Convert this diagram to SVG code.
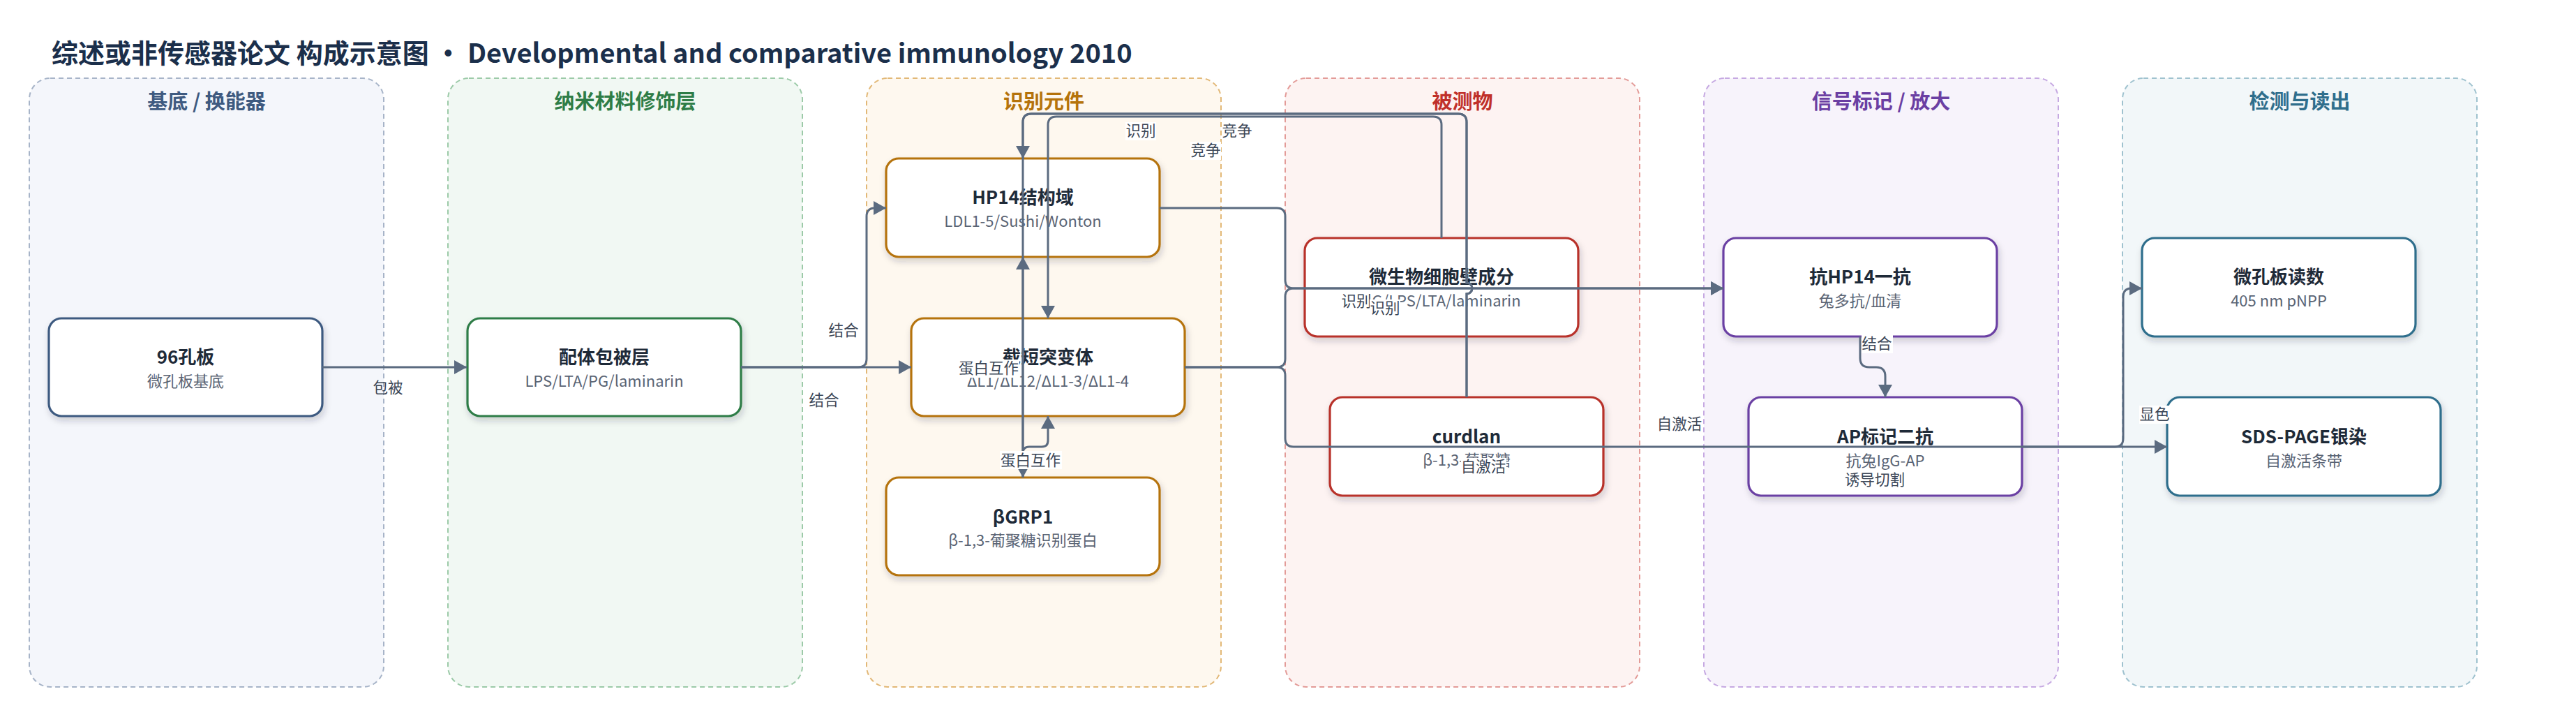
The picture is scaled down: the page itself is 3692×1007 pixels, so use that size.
<svg xmlns="http://www.w3.org/2000/svg" width="3692" height="1007" viewBox="0 0 3692 1007">
<defs>
<style>
text{font-family:"Noto Sans CJK SC","Noto Sans",sans-serif}
.title{font-size:38px;font-weight:700;fill:#1b2f4b}
.lane{stroke-width:2;stroke-dasharray:7 5}
.lt{font-size:29px;font-weight:700;text-anchor:middle}
.node rect{fill:#fff;stroke-width:3.2;filter:url(#sh)}
.nt{font-size:26px;font-weight:700;fill:#1e2a38;text-anchor:middle}
.ns{font-size:22px;fill:#5a6474;text-anchor:middle}
.conn path{fill:none;stroke:#5b6b80;stroke-width:3}
.lbl rect{fill:#fff}
.lbl text{font-size:21.5px;fill:#3b4656;text-anchor:middle}
</style>
<filter id="sh" x="-10%" y="-15%" width="125%" height="145%">
<feDropShadow dx="2" dy="5" stdDeviation="5" flood-color="#1e293b" flood-opacity="0.2"/>
</filter>
<marker id="arr" viewBox="0 0 18 20" refX="18" refY="10" markerWidth="18" markerHeight="20" markerUnits="userSpaceOnUse" orient="auto">
<path d="M0,0 L18,10 L0,20 z" fill="#5b6b80"/>
</marker>
</defs>
<rect width="3692" height="1007" fill="#fff"/>
<text class="title" x="74" y="90">综述或非传感器论文 构成示意图 • Developmental and comparative immunology 2010</text>

<g id="lanes">
<g id="lane-substrate"><rect class="lane" x="42" y="112" width="508" height="872" rx="30" fill="#f4f6fb" stroke="#a7b4c8"/><text class="lt" x="296" y="156" fill="#3e5a80">基底 / 换能器</text></g>
<g id="lane-nano"><rect class="lane" x="642" y="112" width="508" height="872" rx="30" fill="#f1f8f3" stroke="#9ccaa8"/><text class="lt" x="896" y="156" fill="#2e7d47">纳米材料修饰层</text></g>
<g id="lane-recog"><rect class="lane" x="1242" y="112" width="508" height="872" rx="30" fill="#fef8ef" stroke="#e2b877"/><text class="lt" x="1496" y="156" fill="#b5730b">识别元件</text></g>
<g id="lane-analyte"><rect class="lane" x="1842" y="112" width="508" height="872" rx="30" fill="#fdf3f2" stroke="#e39b98"/><text class="lt" x="2096" y="156" fill="#c0302a">被测物</text></g>
<g id="lane-signal"><rect class="lane" x="2442" y="112" width="508" height="872" rx="30" fill="#f7f3fb" stroke="#c6a9e2"/><text class="lt" x="2696" y="156" fill="#6b3fa3">信号标记 / 放大</text></g>
<g id="lane-readout"><rect class="lane" x="3042" y="112" width="508" height="872" rx="30" fill="#f2f7f9" stroke="#9fc2cf"/><text class="lt" x="3296" y="156" fill="#2f6e8c">检测与读出</text></g>
</g>

<g id="n-plate96" class="node"><rect x="70" y="456" width="392" height="140" rx="18" stroke="#3e5a80"/><text class="nt" x="266" y="521">96孔板</text><text class="ns" x="266" y="554">微孔板基底</text></g>
<g id="n-ligand" class="node"><rect x="670" y="456" width="392" height="140" rx="18" stroke="#2e7d47"/><text class="nt" x="866" y="521">配体包被层</text><text class="ns" x="866" y="554">LPS/LTA/PG/laminarin</text></g>
<g id="n-hp14" class="node"><rect x="1270" y="227" width="392" height="141" rx="18" stroke="#b5730b"/><text class="nt" x="1466" y="292">HP14结构域</text><text class="ns" x="1466" y="325">LDL1-5/Sushi/Wonton</text></g>
<g id="n-trunc" class="node"><rect x="1306" y="456" width="392" height="140" rx="18" stroke="#b5730b"/><text class="nt" x="1502" y="521">截短突变体</text><text class="ns" x="1502" y="554">ΔL1/ΔL12/ΔL1-3/ΔL1-4</text></g>
<g id="n-bgrp1" class="node"><rect x="1270" y="684" width="392" height="140" rx="18" stroke="#b5730b"/><text class="nt" x="1466" y="750">βGRP1</text><text class="ns" x="1466" y="782">β-1,3-葡聚糖识别蛋白</text></g>
<g id="n-microbe" class="node"><rect x="1870" y="341" width="392" height="141" rx="18" stroke="#b8302a"/><text class="nt" x="2066" y="406">微生物细胞壁成分</text><text class="ns" x="2066" y="439">PG/LPS/LTA/laminarin</text></g>
<g id="n-curdlan" class="node"><rect x="1906" y="569" width="392" height="141" rx="18" stroke="#b8302a"/><text class="nt" x="2102" y="635">curdlan</text><text class="ns" x="2102" y="667">β-1,3-葡聚糖</text></g>
<g id="n-ab1" class="node"><rect x="2470" y="341" width="392" height="141" rx="18" stroke="#6b3fa3"/><text class="nt" x="2666" y="406">抗HP14一抗</text><text class="ns" x="2666" y="439">兔多抗/血清</text></g>
<g id="n-ab2" class="node"><rect x="2506" y="569" width="392" height="141" rx="18" stroke="#6b3fa3"/><text class="nt" x="2702" y="635">AP标记二抗</text><text class="ns" x="2702" y="668">抗兔IgG-AP</text></g>
<g id="n-reader" class="node"><rect x="3070" y="341" width="392" height="141" rx="18" stroke="#2f6e8c"/><text class="nt" x="3266" y="406">微孔板读数</text><text class="ns" x="3266" y="439">405 nm pNPP</text></g>
<g id="n-sds" class="node"><rect x="3106" y="569" width="392" height="141" rx="18" stroke="#2f6e8c"/><text class="nt" x="3302" y="635">SDS-PAGE银染</text><text class="ns" x="3302" y="668">自激活条带</text></g>

<g id="connectors" class="conn">
<path d="M462,526 H669" marker-end="url(#arr)"/>
<path d="M1062,526 H1230 Q1242,526 1242,514 V310 Q1242,298 1254,298 H1270" marker-end="url(#arr)"/>
<path d="M1062,526 H1306" marker-end="url(#arr)"/>
<path d="M1662,298 H1830 Q1842,298 1842,310 V401 Q1842,413 1854,413 H2470" marker-end="url(#arr)"/>
<path d="M1698,526 H1830 Q1842,526 1842,514 V425 Q1842,413 1854,413 H2470" marker-end="url(#arr)"/>
<path d="M1698,526 H1830 Q1842,526 1842,538 V628 Q1842,640 1854,640 H3106" marker-end="url(#arr)"/>
<path d="M2898,640 H3031 Q3043,640 3043,628 V425 Q3043,413 3055,413 H3070" marker-end="url(#arr)"/>
<path d="M2102,569 V421 A8,8 0 0 0 2102,405 V175 Q2102,163 2090,163 H1478 Q1466,163 1466,175 V227" marker-end="url(#arr)"/>
<path d="M2102,569 V421 A8,8 0 0 0 2102,405 V175 Q2102,163 2090,163 H1478 Q1466,163 1466,175 V684" marker-end="url(#arr)"/>
<path d="M2066,341 V179 Q2066,167 2054,167 H1514 Q1502,167 1502,179 V456" marker-end="url(#arr)"/>
<path d="M1466,684 V368" marker-end="url(#arr)"/>
<path d="M1466,684 V649 Q1466,640 1475,640 H1493 Q1502,640 1502,631 V596" marker-end="url(#arr)"/>
<path d="M2666,482 V513 Q2666,526 2679,526 H2689 Q2702,526 2702,539 V569" marker-end="url(#arr)"/>
</g>

<g id="edge-labels">
<g class="lbl"><text x="556" y="563">包被</text></g>
<g class="lbl"><rect x="1187" y="461" width="44" height="26"/><text x="1209" y="481">结合</text></g>
<g class="lbl"><rect x="1159" y="561" width="44" height="26"/><text x="1181" y="581">结合</text></g>
<g class="lbl"><rect x="1613" y="175" width="44" height="26"/><text x="1635" y="195">识别</text></g>
<g class="lbl"><rect x="1751" y="175" width="44" height="26"/><text x="1773" y="195">竞争</text></g>
<g class="lbl"><rect x="1706" y="203" width="44" height="26"/><text x="1728" y="223">竞争</text></g>
<g class="lbl"><rect x="1922" y="419" width="44" height="26"/><text x="1944" y="439">识别</text></g>
<g class="lbl"><rect x="1963" y="429" width="44" height="26"/><text x="1985" y="449">识别</text></g>
<g class="lbl"><rect x="1373" y="515" width="88" height="26"/><text x="1417" y="535">蛋白互作</text></g>
<g class="lbl"><rect x="1433" y="646" width="89" height="26"/><text x="1477" y="667">蛋白互作</text></g>
<g class="lbl"><text x="2407" y="615">自激活</text></g>
<g class="lbl"><rect x="2094" y="656" width="65" height="26"/><text x="2126" y="676">自激活</text></g>
<g class="lbl"><rect x="2644" y="675" width="87" height="26"/><text x="2687" y="695">诱导切割</text></g>
<g class="lbl"><rect x="3066" y="581" width="45" height="26"/><text x="3088" y="601">显色</text></g>
<g class="lbl"><rect x="2668" y="480" width="45" height="26"/><text x="2690" y="500">结合</text></g>
</g>
</svg>
